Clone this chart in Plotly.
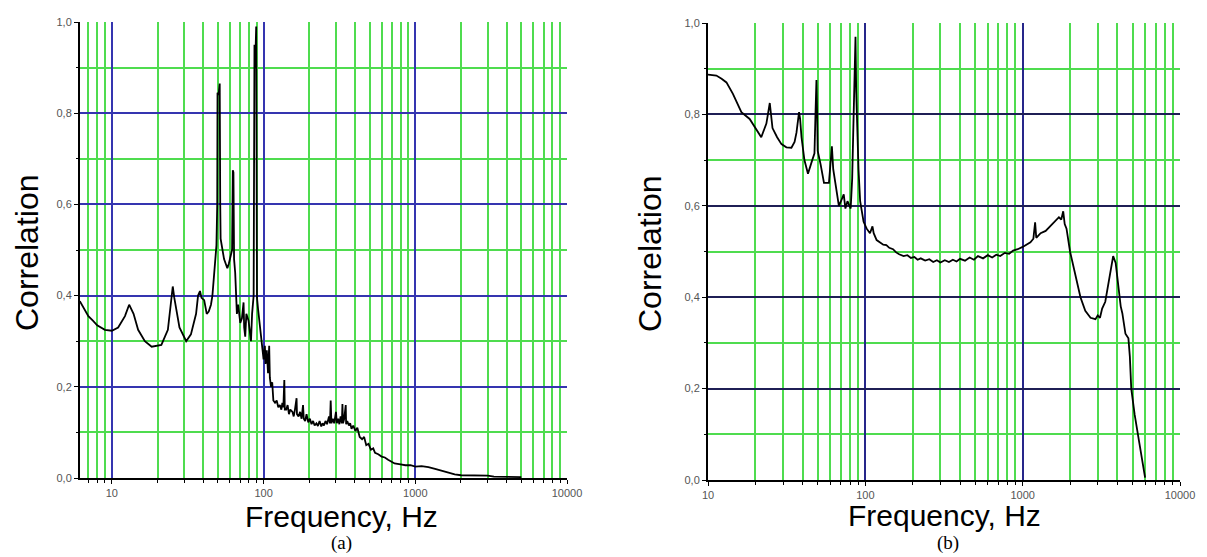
import plotly.graph_objects as go

# panel (a): frequency [Hz] / correlation
freq_a = [6.15, 6.5, 7, 7.5, 8, 9, 10, 11, 12.2, 13, 13.9, 14.9, 16.5, 18.3, 21.2, 23.4, 24.5, 25.2,
          25.8, 27.9, 30.9, 33.2, 35.9, 37, 38.1, 39, 40.6, 42.2, 43.5, 45, 46, 47.3, 48.9, 49.5,
          49.7, 50.5, 51.4, 51.8, 52.1, 54.9, 56, 57.7, 59, 60.6, 62.0, 62.7, 63.3, 63.9, 65, 66.7,
          68, 70.2, 72, 73.8, 74.5, 75.7, 77, 79.6, 81, 82.6, 84, 84.8, 86, 87.1, 88, 89.4, 90, 90.5,
          92, 95.1, 97, 100, 102, 103, 105, 107, 108.9, 110, 112, 114, 116, 119, 122, 125, 128, 131,
          133, 135, 137, 138, 141, 144, 147, 150, 155, 158, 161, 165, 166, 170, 174, 178, 182, 184,
          188, 192, 197, 202, 207, 212, 217, 223, 228, 234, 240, 245, 250, 256, 262, 270, 274, 277,
          280, 286, 292, 300, 304, 310, 316, 322, 328, 331, 334, 340, 348, 350, 356, 365, 372, 380,
          390, 403, 415, 430, 446, 460, 475, 492, 510, 528, 543, 570, 600, 630, 662, 700, 730, 800,
          861, 930, 1000, 1100, 1220, 1350, 1490, 1650, 1820, 2000, 2220, 2600, 3000, 3300, 4000, 5000]
corr_a = [0.388, 0.375, 0.355, 0.345, 0.335, 0.325, 0.323, 0.33, 0.355, 0.38, 0.36, 0.325, 0.30,
          0.288, 0.292, 0.325, 0.39, 0.42, 0.395, 0.33, 0.30, 0.315, 0.36, 0.40, 0.41, 0.395, 0.39,
          0.36, 0.365, 0.38, 0.40, 0.455, 0.51, 0.60, 0.845, 0.84, 0.865, 0.60, 0.525, 0.48, 0.47,
          0.46, 0.47, 0.49, 0.50, 0.675, 0.67, 0.48, 0.45, 0.36, 0.38, 0.34, 0.35, 0.385, 0.33, 0.31,
          0.36, 0.345, 0.32, 0.30, 0.36, 0.39, 0.40, 0.95, 0.90, 0.99, 0.60, 0.395, 0.37, 0.325,
          0.30, 0.26, 0.29, 0.25, 0.28, 0.23, 0.29, 0.22, 0.20, 0.21, 0.17, 0.165, 0.17, 0.155, 0.16,
          0.15, 0.165, 0.155, 0.215, 0.15, 0.15, 0.16, 0.14, 0.15, 0.145, 0.135, 0.15, 0.175, 0.14,
          0.135, 0.145, 0.13, 0.16, 0.13, 0.125, 0.14, 0.122, 0.13, 0.118, 0.125, 0.115, 0.12, 0.114,
          0.125, 0.113, 0.12, 0.115, 0.125, 0.118, 0.135, 0.12, 0.17, 0.12, 0.13, 0.12, 0.145, 0.12,
          0.13, 0.118, 0.135, 0.12, 0.162, 0.12, 0.13, 0.16, 0.118, 0.125, 0.115, 0.12, 0.108, 0.115,
          0.103, 0.11, 0.09, 0.085, 0.09, 0.072, 0.075, 0.062, 0.065, 0.055, 0.052, 0.047, 0.045,
          0.04, 0.036, 0.032, 0.03, 0.028, 0.028, 0.025, 0.026, 0.024, 0.02, 0.016, 0.012, 0.008,
          0.006, 0.006, 0.006, 0.005, 0.003, 0.002, 0.002]

# panel (b)
freq_b = [10, 11.3, 12.2, 13.1, 14.4, 15.3, 16.3, 18.4, 20, 21.8, 23.5, 24.7, 25.7, 27.5, 29.3, 31.5,
          33.9, 35.5, 36.5, 37.9, 38.5, 39.3, 41, 43.2, 45.5, 47.5, 48.2, 48.9, 49.4, 49.8, 52, 54.6,
          58.7, 60.5, 61.3, 62.5, 65, 67.9, 70, 72.9, 74.7, 77, 80.7, 82.5, 83.7, 85.5, 86.6, 87.5,
          88.5, 90.5, 92.7, 95, 97.5, 102, 107, 111, 113, 118, 125, 130, 136, 142, 150, 157, 164, 175,
          185, 195, 205, 215, 225, 240, 255, 270, 285, 300, 320, 340, 360, 380, 400, 430, 460, 490,
          520, 560, 600, 640, 680, 720, 770, 820, 870, 930, 1000, 1070, 1120, 1170, 1200, 1220, 1300,
          1400, 1500, 1600, 1700, 1760, 1810, 1850, 1900, 2000, 2150, 2330, 2500, 2700, 2900, 3000,
          3100, 3200, 3350, 3500, 3650, 3760, 3900, 4070, 4200, 4300, 4400, 4500, 4700, 4800, 4900,
          5150, 5520, 5800, 6000]
corr_b = [0.887, 0.885, 0.878, 0.87, 0.845, 0.825, 0.805, 0.79, 0.77, 0.75, 0.78, 0.825, 0.77, 0.75,
          0.735, 0.728, 0.727, 0.74, 0.76, 0.805, 0.79, 0.75, 0.70, 0.67, 0.695, 0.715, 0.80, 0.875,
          0.80, 0.72, 0.69, 0.65, 0.65, 0.70, 0.73, 0.68, 0.64, 0.60, 0.61, 0.625, 0.594, 0.61, 0.594,
          0.66, 0.755, 0.90, 0.97, 0.85, 0.78, 0.68, 0.61, 0.585, 0.565, 0.55, 0.54, 0.555, 0.54,
          0.525, 0.52, 0.515, 0.514, 0.508, 0.505, 0.498, 0.494, 0.49, 0.492, 0.486, 0.488, 0.482,
          0.485, 0.48, 0.483, 0.477, 0.481, 0.476, 0.481, 0.477, 0.482, 0.478, 0.484, 0.48, 0.487,
          0.482, 0.49, 0.485, 0.492, 0.487, 0.493, 0.49, 0.497, 0.495, 0.502, 0.505, 0.51, 0.515,
          0.52, 0.528, 0.564, 0.53, 0.54, 0.545, 0.555, 0.565, 0.575, 0.57, 0.588, 0.56, 0.55, 0.50,
          0.45, 0.40, 0.37, 0.355, 0.352, 0.36, 0.355, 0.375, 0.39, 0.43, 0.47, 0.49, 0.475, 0.416,
          0.38, 0.365, 0.345, 0.32, 0.31, 0.27, 0.20, 0.143, 0.08, 0.04, 0.005]

x_major = [10, 100, 1000, 10000]
x_major_text = ['10', '100', '1000', '10000']
x_minor = [m * d for d in (1, 10, 100, 1000) for m in range(2, 10)]
y_major = [0, 0.2, 0.4, 0.6, 0.8, 1.0]
y_major_text = ['0,0', '0,2', '0,4', '0,6', '0,8', '1,0']
y_minor = [0.1, 0.3, 0.5, 0.7, 0.9]

W, H = 1207, 557
OFF = 8  # the page body margin shifts the figure by this much
GREEN = '#4fdc4f'
TICKFONT = dict(family='Liberation Sans', size=11, color='#555555')


def xaxis(left, right, start, major_col):
    return dict(
        type='log', range=[start, 4], domain=[(left - OFF) / W, (right - OFF) / W],
        tickvals=x_major, ticktext=x_major_text, tickfont=TICKFONT,
        ticks='outside', ticklen=4, tickcolor='black',
        showgrid=True, gridcolor=major_col, gridwidth=1.8,
        minor=dict(tickvals=x_minor, showgrid=True, gridcolor=GREEN, gridwidth=2.2,
                   ticks='outside', ticklen=3, tickcolor='black'),
        showline=True, linecolor='black', linewidth=2, zeroline=False,
    )


def yaxis(bottom, top, major_col):
    return dict(
        range=[0, 1.0], domain=[(H - bottom + OFF) / H, (H - top + OFF) / H],
        tickvals=y_major, ticktext=y_major_text, tickfont=TICKFONT,
        ticks='outside', ticklen=4, tickcolor='black',
        showgrid=True, gridcolor=major_col, gridwidth=1.8,
        minor=dict(tickvals=y_minor, showgrid=True, gridcolor=GREEN, gridwidth=2.2,
                   ticks='outside', ticklen=2, tickcolor='black'),
        showline=True, linecolor='black', linewidth=2, zeroline=False,
    )


fig = go.Figure()
fig.add_trace(go.Scatter(x=freq_a, y=corr_a, mode='lines', xaxis='x', yaxis='y',
                         line=dict(color='black', width=1.8), showlegend=False))
fig.add_trace(go.Scatter(x=freq_b, y=corr_b, mode='lines', xaxis='x2', yaxis='y2',
                         line=dict(color='black', width=1.8), showlegend=False))

xa = xaxis(80, 567, 0.79, '#3535b0')
xa['anchor'] = 'y'
ya = yaxis(478, 22, '#3535b0')
ya['anchor'] = 'x'
xb = xaxis(708, 1180, 1, '#26268a')
xb['anchor'] = 'y2'
yb = yaxis(480, 23, '#1f1f55')
yb['anchor'] = 'x2'

labels = [
    dict(text='Correlation', x=27, y=253, textangle=-90, size=32, family='Liberation Sans'),
    dict(text='Correlation', x=650, y=254, textangle=-90, size=32, family='Liberation Sans'),
    dict(text='Frequency, Hz', x=341, y=516, textangle=0, size=30, family='Liberation Sans'),
    dict(text='Frequency, Hz', x=944, y=515, textangle=0, size=30, family='Liberation Sans'),
    dict(text='(a)', x=341, y=543, textangle=0, size=19, family='Liberation Serif'),
    dict(text='(b)', x=948, y=543, textangle=0, size=19, family='Liberation Serif'),
]
annotations = [
    dict(text=l['text'], x=(l['x'] - OFF) / W, y=1 - (l['y'] - OFF) / H, xref='paper', yref='paper',
         showarrow=False, textangle=l['textangle'], xanchor='center', yanchor='middle',
         borderpad=0, font=dict(family=l['family'], size=l['size'], color='black'))
    for l in labels
]

fig.update_layout(
    width=W, height=H, margin=dict(l=0, r=0, t=0, b=0, autoexpand=False),
    paper_bgcolor='white', plot_bgcolor='white',
    xaxis=xa, yaxis=ya, xaxis2=xb, yaxis2=yb,
    annotations=annotations,
)

fig.write_html('out.html')
